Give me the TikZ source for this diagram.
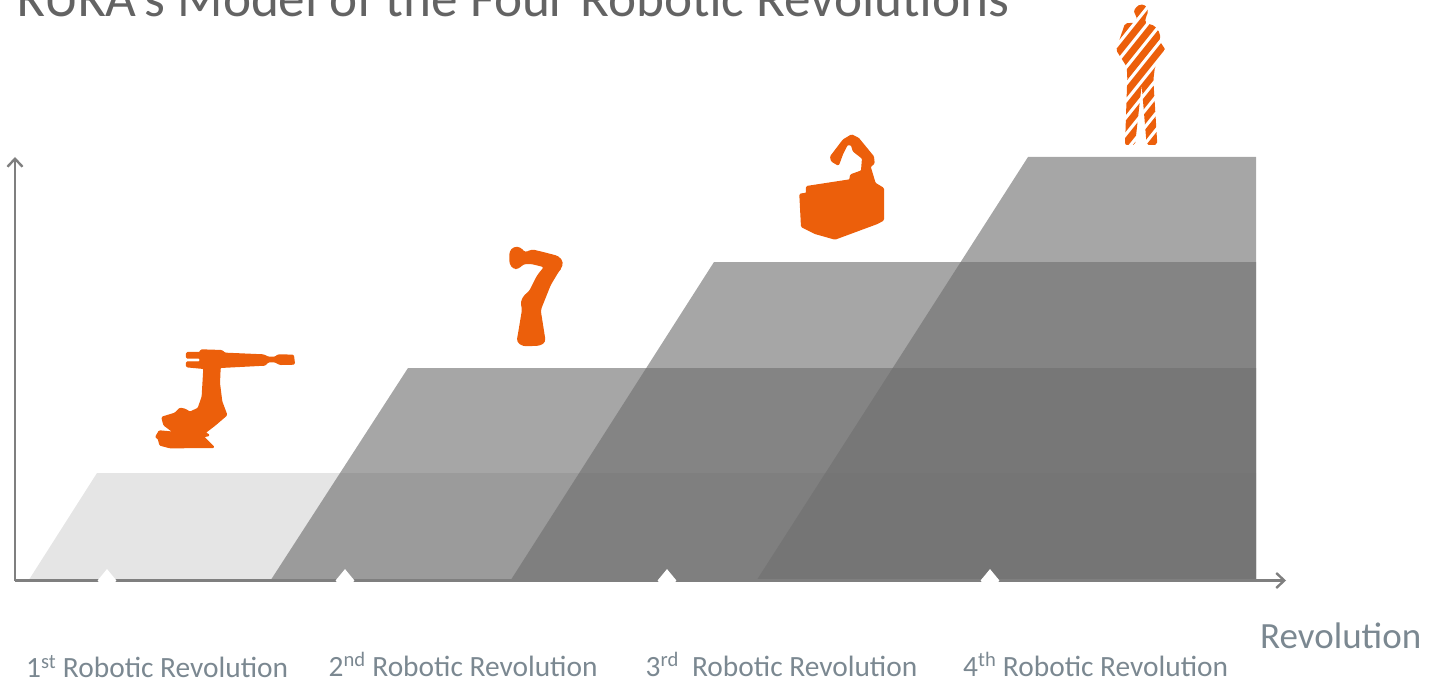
\documentclass[tikz,border=0pt]{standalone}
\usepackage{fontspec}
\setmainfont{Carlito}
\usetikzlibrary{arrows.meta,shapes.geometric}
\definecolor{robotOrange}{HTML}{EC5F0B}
\definecolor{labelGray}{HTML}{7B8891}
\definecolor{titleGray}{HTML}{636363}
\definecolor{axisGray}{HTML}{7F7F7F}
\definecolor{layerGray}{HTML}{6F6F6F}
\definecolor{layerLight}{HTML}{E5E5E5}

\begin{document}
\begin{tikzpicture}
[x=1pt,y=-1pt,%
  layerDecorate/.style={fill=layerGray,fill opacity=0.618},%
  axisDecorate/.style={-{Straight Barb[length=8pt,width=15pt]},line width=2.4pt,draw=axisGray},%
  markDecorate/.style={shape=diamond,fill=white,inner sep=0pt,minimum width=19pt,minimum height=23pt},%
  labelDecorate/.style={anchor=base west,inner sep=0pt,text depth=0pt,text=labelGray,font=\fontsize{29.4}{32}\selectfont},%
  robotDecorate/.style={fill=robotOrange,draw=robotOrange,line width=1.4pt,line join=round,rounded corners=2pt}]
\useasboundingbox (0,0) rectangle (1430,682);
\clip (0,0) rectangle (1430,682);
%% title
\node (title) at (17,17) [anchor=base west,inner sep=0pt,text=titleGray,font=\fontsize{53.2}{56}\selectfont] {KUKA's Model of the Four Robotic Revolutions};
%% layers
\fill[layerLight] (28.5,580.5) -- (97,473) -- (1256,473) -- (1256,580.5) -- cycle;
\foreach \xa/\xb/\ytop in {270.5/408/368, 510.5/714/262, 756.5/1028/157}
{
  \fill[layerDecorate] (\xa,580.5) -- (\xb,\ytop) -- (1256,\ytop) -- (1256,580.5) -- cycle;
}
%% axes
\coordinate (origin) at (15,580.5);
\coordinate (xEnd) at (1286,580.5);
\coordinate (yEnd) at (15,157);
\draw[axisDecorate] (origin) -- (xEnd);
\draw[axisDecorate] (origin) -- (yEnd);
%% marks on the axis
\foreach \nodename/\x in {markOne/107, markTwo/345, markThree/667, markFour/990}
{
  \node (\nodename) at (\x,580.5) [markDecorate] {};
}
%% labels
\node (labelOne) at (26,677.5) [labelDecorate] {1\textsuperscript{st} Robotic Revolution};
\node (labelTwo) at (328.5,676) [labelDecorate] {2\textsuperscript{nd} Robotic Revolution};
\node (labelThree) at (645.5,676) [labelDecorate] {3\textsuperscript{rd}\ \ Robotic Revolution};
\node (labelFour) at (963,676) [labelDecorate] {4\textsuperscript{th} Robotic Revolution};
\node (axisLabel) at (1260,648) [labelDecorate,font=\fontsize{37}{40}\selectfont] {Revolution};
%% heavy robot
\filldraw[robotDecorate,rounded corners=1pt,shift={(140,330)},scale=0.3333]
  (140,68) -- (180,68) -- (183,60) -- (245,62) -- (255,70) -- (370,75) -- (385,82) -- (405,82)
  -- (415,75) -- (460,76) -- (463,102) -- (420,103) -- (405,95) -- (385,95) -- (375,105)
  -- (240,112) -- (238,160) -- (245,215) -- (260,255) -- (225,285) -- (195,308) -- (208,316)
  -- (190,320) -- (205,335) -- (222,352) -- (90,353) -- (60,345) -- (55,325) -- (47,322)
  -- (58,303) -- (112,308) -- (96,303) -- (72,285) -- (66,262) -- (105,250) -- (120,235)
  -- (135,238) -- (150,247) -- (175,235) -- (187,200) -- (192,115) -- (140,110) -- (140,96)
  -- (180,96) -- (180,84) -- (140,84) -- cycle;
%% light robot
\filldraw[robotDecorate,rounded corners=3pt,shift={(490,235)},scale=0.3333]
  (60,50) -- (72,37) -- (90,38) -- (105,55) -- (125,45) -- (155,52) -- (205,65) -- (218,82)
  -- (212,100) -- (205,108) -- (180,150) -- (150,225) -- (165,320) -- (150,330) -- (100,332)
  -- (82,320) -- (98,225) -- (94,200) -- (105,180) -- (118,172) -- (143,122) -- (165,95)
  -- (125,85) -- (100,85) -- (85,100) -- (70,100) -- (60,85) -- cycle;
%% mobile robot
\filldraw[robotDecorate,rounded corners=1pt,shift={(790,125)},scale=0.3333]
  (30,208) -- (50,205) -- (50,185) -- (180,165) -- (182,150) -- (215,138) -- (218,100)
  -- (190,78) -- (185,60) -- (172,58) -- (158,85) -- (145,120) -- (125,108) -- (122,95)
  -- (160,45) -- (185,30) -- (205,40) -- (250,95) -- (252,115) -- (240,125) -- (255,175)
  -- (280,190) -- (280,285) -- (262,295) -- (135,342) -- (75,325) -- (35,305) -- cycle;
%% human
\begin{scope}[shift={(1100,0)},scale=0.3333]
\clip[rounded corners=2pt]
  (100,30) -- (120,12) -- (140,18) -- (145,35) -- (138,50) -- (135,68) -- (165,78) -- (180,100)
  -- (180,125) -- (197,150) -- (165,200) -- (160,240) -- (172,435) -- (140,435) -- (125,255)
  -- (105,435) -- (75,435) -- (82,230) -- (80,200) -- (48,150) -- (75,70) -- (105,68) -- (112,58) -- cycle;
\foreach \x in {-300,-260,...,200}
{
  \draw[draw=robotOrange,line width=7pt] (\x,450) -- ++(360,-450);
}
\end{scope}
\end{tikzpicture}
\end{document}
